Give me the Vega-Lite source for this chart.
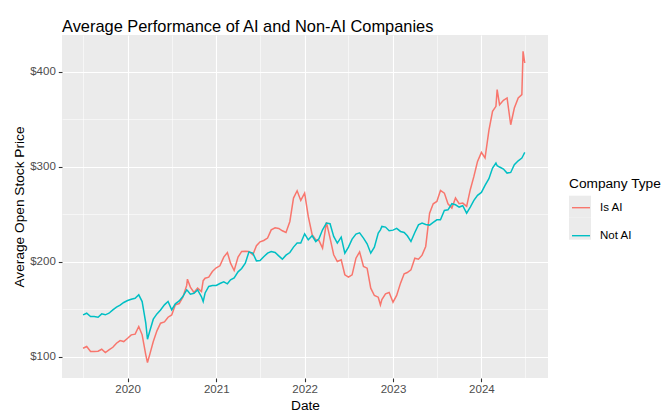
{
  "$schema": "https://vega.github.io/schema/vega-lite/v6.json",
  "width": 486,
  "height": 343,
  "autosize": {"type": "none"},
  "padding": {"left": 62, "top": 35, "right": 115, "bottom": 34},
  "background": "white",
  "title": {"text": "Average Performance of AI and Non-AI Companies", "anchor": "start", "frame": "group", "fontSize": 16.4, "font": "Liberation Sans", "fontWeight": "normal", "color": "#000000", "baseline": "alphabetic", "offset": 5, "dy": 18},
  "config": {"view": {"fill": "#EBEBEB", "stroke": null}, "font": "Liberation Sans"},
  "data": {"values": [
    {"date": "2019-07-01", "Is AI": 108.8, "Not AI": 144.0},
    {"date": "2019-07-16", "Is AI": 110.6, "Not AI": 145.7},
    {"date": "2019-08-01", "Is AI": 105.3, "Not AI": 142.2},
    {"date": "2019-08-16", "Is AI": 105.3, "Not AI": 142.2},
    {"date": "2019-09-01", "Is AI": 105.6, "Not AI": 141.5},
    {"date": "2019-09-16", "Is AI": 107.7, "Not AI": 145.0},
    {"date": "2019-10-01", "Is AI": 104.2, "Not AI": 144.0},
    {"date": "2019-10-16", "Is AI": 107.0, "Not AI": 145.7},
    {"date": "2019-11-01", "Is AI": 109.8, "Not AI": 149.2},
    {"date": "2019-11-16", "Is AI": 114.1, "Not AI": 152.1},
    {"date": "2019-12-01", "Is AI": 116.9, "Not AI": 154.2},
    {"date": "2019-12-16", "Is AI": 115.8, "Not AI": 157.0},
    {"date": "2020-01-01", "Is AI": 119.3, "Not AI": 159.1},
    {"date": "2020-01-16", "Is AI": 122.9, "Not AI": 160.5},
    {"date": "2020-02-01", "Is AI": 123.6, "Not AI": 161.5},
    {"date": "2020-02-16", "Is AI": 131.7, "Not AI": 165.1},
    {"date": "2020-03-01", "Is AI": 122.9, "Not AI": 158.0},
    {"date": "2020-03-16", "Is AI": 101.8, "Not AI": 135.2},
    {"date": "2020-03-23", "Is AI": 93.7, "Not AI": 118.3},
    {"date": "2020-04-01", "Is AI": 101.8, "Not AI": 126.4},
    {"date": "2020-04-16", "Is AI": 115.8, "Not AI": 139.4},
    {"date": "2020-05-01", "Is AI": 127.1, "Not AI": 145.0},
    {"date": "2020-05-16", "Is AI": 135.2, "Not AI": 149.2},
    {"date": "2020-06-01", "Is AI": 136.6, "Not AI": 154.5},
    {"date": "2020-06-16", "Is AI": 141.5, "Not AI": 158.0},
    {"date": "2020-07-01", "Is AI": 143.9, "Not AI": 149.2},
    {"date": "2020-07-16", "Is AI": 154.5, "Not AI": 155.6},
    {"date": "2020-08-01", "Is AI": 155.9, "Not AI": 158.7},
    {"date": "2020-08-16", "Is AI": 162.6, "Not AI": 163.3},
    {"date": "2020-09-01", "Is AI": 175.0, "Not AI": 170.3},
    {"date": "2020-09-04", "Is AI": 181.6, "Not AI": 169.6},
    {"date": "2020-09-16", "Is AI": 173.2, "Not AI": 165.8},
    {"date": "2020-10-01", "Is AI": 167.5, "Not AI": 166.8},
    {"date": "2020-10-16", "Is AI": 172.1, "Not AI": 170.3},
    {"date": "2020-11-01", "Is AI": 168.6, "Not AI": 163.0},
    {"date": "2020-11-08", "Is AI": 180.0, "Not AI": 158.0},
    {"date": "2020-11-16", "Is AI": 182.6, "Not AI": 167.0},
    {"date": "2020-12-01", "Is AI": 183.7, "Not AI": 173.9},
    {"date": "2020-12-16", "Is AI": 189.7, "Not AI": 174.9},
    {"date": "2021-01-01", "Is AI": 193.6, "Not AI": 174.9},
    {"date": "2021-01-16", "Is AI": 195.7, "Not AI": 177.0},
    {"date": "2021-02-01", "Is AI": 204.8, "Not AI": 178.8},
    {"date": "2021-02-16", "Is AI": 209.7, "Not AI": 176.7},
    {"date": "2021-03-01", "Is AI": 198.5, "Not AI": 180.9},
    {"date": "2021-03-16", "Is AI": 190.7, "Not AI": 183.0},
    {"date": "2021-04-01", "Is AI": 204.8, "Not AI": 189.3},
    {"date": "2021-04-16", "Is AI": 210.8, "Not AI": 192.8},
    {"date": "2021-05-01", "Is AI": 211.1, "Not AI": 198.5},
    {"date": "2021-05-16", "Is AI": 210.8, "Not AI": 210.4},
    {"date": "2021-06-01", "Is AI": 207.3, "Not AI": 209.0},
    {"date": "2021-06-16", "Is AI": 216.8, "Not AI": 200.9},
    {"date": "2021-07-01", "Is AI": 221.0, "Not AI": 201.3},
    {"date": "2021-07-16", "Is AI": 222.4, "Not AI": 205.2},
    {"date": "2021-08-01", "Is AI": 224.9, "Not AI": 209.0},
    {"date": "2021-08-16", "Is AI": 233.6, "Not AI": 210.8},
    {"date": "2021-09-01", "Is AI": 235.8, "Not AI": 209.7},
    {"date": "2021-09-16", "Is AI": 235.1, "Not AI": 206.2},
    {"date": "2021-10-01", "Is AI": 232.6, "Not AI": 202.7},
    {"date": "2021-10-16", "Is AI": 230.8, "Not AI": 206.9},
    {"date": "2021-11-01", "Is AI": 242.4, "Not AI": 209.7},
    {"date": "2021-11-16", "Is AI": 267.1, "Not AI": 215.4},
    {"date": "2021-12-01", "Is AI": 274.8, "Not AI": 219.6},
    {"date": "2021-12-16", "Is AI": 264.6, "Not AI": 219.6},
    {"date": "2022-01-01", "Is AI": 272.3, "Not AI": 229.4},
    {"date": "2022-01-16", "Is AI": 247.7, "Not AI": 223.1},
    {"date": "2022-02-01", "Is AI": 228.4, "Not AI": 227.3},
    {"date": "2022-02-16", "Is AI": 223.1, "Not AI": 221.3},
    {"date": "2022-03-01", "Is AI": 222.4, "Not AI": 224.1},
    {"date": "2022-03-16", "Is AI": 214.3, "Not AI": 233.6},
    {"date": "2022-04-01", "Is AI": 241.4, "Not AI": 240.7},
    {"date": "2022-04-16", "Is AI": 224.9, "Not AI": 240.0},
    {"date": "2022-05-01", "Is AI": 207.3, "Not AI": 226.6},
    {"date": "2022-05-16", "Is AI": 200.2, "Not AI": 219.6},
    {"date": "2022-06-01", "Is AI": 202.0, "Not AI": 225.9},
    {"date": "2022-06-16", "Is AI": 186.2, "Not AI": 209.0},
    {"date": "2022-07-01", "Is AI": 183.7, "Not AI": 215.4},
    {"date": "2022-07-16", "Is AI": 186.2, "Not AI": 223.8},
    {"date": "2022-08-01", "Is AI": 203.7, "Not AI": 229.1},
    {"date": "2022-08-16", "Is AI": 210.4, "Not AI": 230.5},
    {"date": "2022-09-01", "Is AI": 195.0, "Not AI": 224.9},
    {"date": "2022-09-16", "Is AI": 193.2, "Not AI": 218.9},
    {"date": "2022-10-01", "Is AI": 172.1, "Not AI": 209.0},
    {"date": "2022-10-16", "Is AI": 164.4, "Not AI": 215.4},
    {"date": "2022-11-01", "Is AI": 162.6, "Not AI": 230.1},
    {"date": "2022-11-10", "Is AI": 154.5, "Not AI": 233.6},
    {"date": "2022-11-16", "Is AI": 160.0, "Not AI": 237.2},
    {"date": "2022-12-01", "Is AI": 166.1, "Not AI": 236.5},
    {"date": "2022-12-16", "Is AI": 167.5, "Not AI": 232.6},
    {"date": "2023-01-01", "Is AI": 157.3, "Not AI": 233.3},
    {"date": "2023-01-16", "Is AI": 164.4, "Not AI": 235.1},
    {"date": "2023-02-01", "Is AI": 177.4, "Not AI": 231.9},
    {"date": "2023-02-16", "Is AI": 187.2, "Not AI": 230.8},
    {"date": "2023-03-01", "Is AI": 188.6, "Not AI": 227.3},
    {"date": "2023-03-16", "Is AI": 191.4, "Not AI": 221.3},
    {"date": "2023-04-01", "Is AI": 203.7, "Not AI": 230.8},
    {"date": "2023-04-16", "Is AI": 202.7, "Not AI": 238.9},
    {"date": "2023-05-01", "Is AI": 206.9, "Not AI": 240.7},
    {"date": "2023-05-16", "Is AI": 216.1, "Not AI": 239.3},
    {"date": "2023-06-01", "Is AI": 251.2, "Not AI": 238.6},
    {"date": "2023-06-16", "Is AI": 261.1, "Not AI": 241.4},
    {"date": "2023-07-01", "Is AI": 263.5, "Not AI": 244.2},
    {"date": "2023-07-16", "Is AI": 275.1, "Not AI": 244.2},
    {"date": "2023-08-01", "Is AI": 272.3, "Not AI": 254.0},
    {"date": "2023-08-16", "Is AI": 261.1, "Not AI": 254.7},
    {"date": "2023-09-01", "Is AI": 256.5, "Not AI": 261.1},
    {"date": "2023-09-16", "Is AI": 267.1, "Not AI": 260.0},
    {"date": "2023-10-01", "Is AI": 261.1, "Not AI": 257.6},
    {"date": "2023-10-16", "Is AI": 261.8, "Not AI": 259.0},
    {"date": "2023-11-01", "Is AI": 258.3, "Not AI": 251.2},
    {"date": "2023-11-16", "Is AI": 275.9, "Not AI": 257.6},
    {"date": "2023-12-01", "Is AI": 289.9, "Not AI": 264.6},
    {"date": "2023-12-16", "Is AI": 305.7, "Not AI": 269.9},
    {"date": "2024-01-01", "Is AI": 315.2, "Not AI": 273.0},
    {"date": "2024-01-16", "Is AI": 309.3, "Not AI": 280.4},
    {"date": "2024-02-01", "Is AI": 338.4, "Not AI": 287.5},
    {"date": "2024-02-16", "Is AI": 358.5, "Not AI": 298.7},
    {"date": "2024-03-01", "Is AI": 363.8, "Not AI": 304.0},
    {"date": "2024-03-06", "Is AI": 381.4, "Not AI": 301.2},
    {"date": "2024-03-16", "Is AI": 365.5, "Not AI": 299.8},
    {"date": "2024-04-01", "Is AI": 370.1, "Not AI": 297.7},
    {"date": "2024-04-16", "Is AI": 372.6, "Not AI": 293.4},
    {"date": "2024-05-01", "Is AI": 344.4, "Not AI": 294.1},
    {"date": "2024-05-16", "Is AI": 362.0, "Not AI": 302.2},
    {"date": "2024-06-01", "Is AI": 372.6, "Not AI": 306.4},
    {"date": "2024-06-16", "Is AI": 376.1, "Not AI": 309.3},
    {"date": "2024-06-21", "Is AI": 421.8, "Not AI": 311.7},
    {"date": "2024-06-28", "Is AI": 409.5, "Not AI": 315.2}
  ]},
  "transform": [{"fold": ["Is AI", "Not AI"], "as": ["type", "price"]}],
  "encoding": {
    "x": {
      "field": "date", "type": "temporal", "title": "Date",
      "scale": {"type": "utc", "domain": [{"year": 2019, "month": 4, "date": 5, "utc": true}, {"year": 2024, "month": 10, "date": 2, "utc": true}]},
      "axis": {
        "values": [
          {"year": 2019, "month": 7, "date": 1, "utc": true},
          {"year": 2020, "month": 1, "date": 1, "utc": true},
          {"year": 2020, "month": 7, "date": 1, "utc": true},
          {"year": 2021, "month": 1, "date": 1, "utc": true},
          {"year": 2021, "month": 7, "date": 1, "utc": true},
          {"year": 2022, "month": 1, "date": 1, "utc": true},
          {"year": 2022, "month": 7, "date": 1, "utc": true},
          {"year": 2023, "month": 1, "date": 1, "utc": true},
          {"year": 2023, "month": 7, "date": 1, "utc": true},
          {"year": 2024, "month": 1, "date": 1, "utc": true},
          {"year": 2024, "month": 7, "date": 1, "utc": true}
        ],
        "labelExpr": "utcmonth(datum.value) == 0 ? utcFormat(datum.value, '%Y') : ''",
        "labelOverlap": false, "labelFlush": false,
        "domain": false,
        "grid": true, "gridColor": "#FFFFFF", "gridOpacity": 1,
        "gridWidth": {"condition": {"test": "utcmonth(datum.value) == 0", "value": 1.1}, "value": 0.55},
        "tickColor": "#333333", "tickWidth": 1.1, "tickSize": 3.7,
        "tickOpacity": {"condition": {"test": "utcmonth(datum.value) == 0", "value": 1}, "value": 0},
        "labelColor": "#4D4D4D", "labelFontSize": 11.5, "labelFont": "Liberation Sans", "labelPadding": 2,
        "titleFont": "Liberation Sans", "titleFontSize": 13.7, "titleFontWeight": "normal", "titleColor": "#000000", "titlePadding": 3
      }
    },
    "y": {
      "field": "price", "type": "quantitative", "title": "Average Open Stock Price",
      "scale": {"domain": [77.4, 439], "nice": false, "zero": false},
      "axis": {
        "values": [100, 150, 200, 250, 300, 350, 400],
        "labelExpr": "datum.value % 100 == 0 ? '$' + datum.value : ''",
        "labelOverlap": false, "labelFlush": false,
        "domain": false,
        "grid": true, "gridColor": "#FFFFFF", "gridOpacity": 1,
        "gridWidth": {"condition": {"test": "datum.value % 100 == 0", "value": 1.1}, "value": 0.55},
        "tickColor": "#333333", "tickWidth": 1.1, "tickSize": 3.7,
        "tickOpacity": {"condition": {"test": "datum.value % 100 == 0", "value": 1}, "value": 0},
        "labelColor": "#4D4D4D", "labelFontSize": 11.5, "labelFont": "Liberation Sans", "labelPadding": 3,
        "titleFont": "Liberation Sans", "titleFontSize": 13.7, "titleFontWeight": "normal", "titleColor": "#000000", "titlePadding": 3
      }
    }
  },
  "layer": [
    {
      "mark": {"type": "square", "size": 0, "opacity": 0},
      "encoding": {
        "color": {
          "field": "type", "type": "nominal",
          "scale": {"domain": ["Not AI", "Is AI"], "range": ["#EBEBEB", "#EBEBEB"]},
          "legend": {
            "orient": "none", "legendX": 507, "legendY": 160.7,
            "title": null,
            "symbolType": "square", "symbolSize": 484, "symbolOpacity": 1, "symbolStrokeWidth": 0,
            "labelExpr": "''", "labelFontSize": 11.5, "labelOffset": 7,
            "rowPadding": 0, "padding": 0, "zindex": 1
          }
        }
      }
    },
    {
      "mark": {"type": "line", "strokeWidth": 1.5},
      "encoding": {
        "stroke": {
          "field": "type", "type": "nominal",
          "scale": {"domain": ["Is AI", "Not AI"], "range": ["#F8766D", "#00BFC4"]},
          "legend": {
            "orient": "none", "legendX": 507, "legendY": 142,
            "title": "Company Type", "titleFont": "Liberation Sans", "titleFontSize": 13.7, "titleFontWeight": "normal", "titleColor": "#000000", "titlePadding": 5,
            "symbolType": "M-0.82,0H0.82M-0.937,-0.937M0.937,0.937", "symbolSize": 484, "symbolStrokeWidth": 1.4,
            "labelFont": "Liberation Sans", "labelFontSize": 11.5, "labelColor": "#000000", "labelOffset": 7,
            "rowPadding": 0, "padding": 0, "zindex": 2
          }
        }
      }
    }
  ]
}
